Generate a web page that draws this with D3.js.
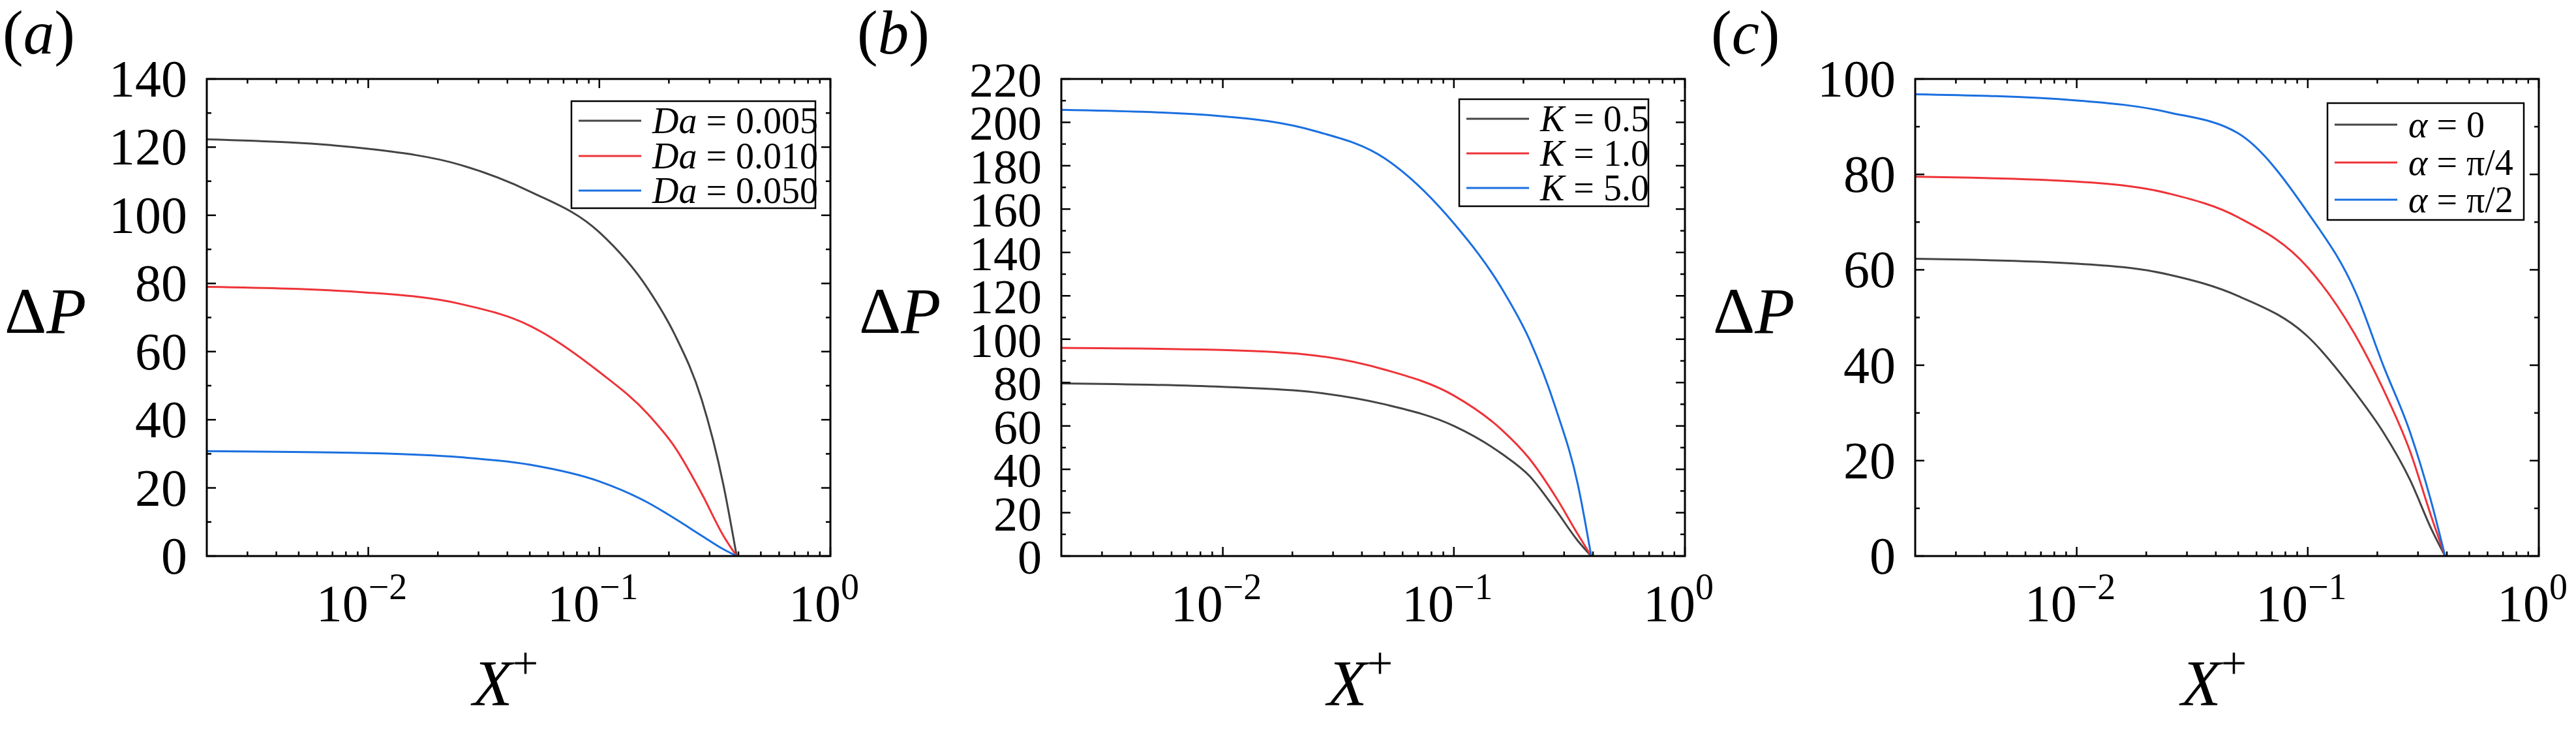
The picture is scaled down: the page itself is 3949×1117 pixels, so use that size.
<!DOCTYPE html>
<html><head><meta charset="utf-8">
<script src="https://cdn.jsdelivr.net/npm/d3@7"></script>
<style>body{margin:0;background:#fff}text{font-family:"Liberation Serif","Times New Roman",serif;fill:#000}</style>
</head><body><svg id="c" width="3949" height="1117"></svg>
<script>
const xs = [0.002, 0.01, 0.025, 0.05, 0.1, 0.162, 0.212, 0.277, 0.344, 0.393];
const colors = ["#444444", "#ee3338", "#1a6fe0"];

// panel a
const daLabels = ["0.005", "0.010", "0.050"];
const daValues = [
  [122.3, 119.5, 114.8, 107, 95, 78.5, 65, 46, 21, 0],
  [79, 77.3, 74, 67.6, 54, 41.7, 32, 18.4, 6, 0],
  [30.8, 30.2, 29, 26.8, 21.9, 15.7, 11, 6, 2, 0]
];
// panel b
const kLabels = ["0.5", "1.0", "5.0"];
const kValues = [
  [79.6, 78, 75.5, 70, 60, 47, 37, 21, 7, 0],
  [96, 95, 92.5, 86, 74, 58, 45, 27, 10, 0],
  [205.8, 202.8, 196, 183.5, 153.4, 123, 100, 67.6, 33, 0]
];
// panel c
const alphaLabels = ["0", "π/4", "π/2"];
const alphaValues = [
  [62.3, 61.3, 59, 54.5, 46, 34, 26, 16, 5.5, 0],
  [79.5, 78.5, 76, 71, 60.5, 46, 35, 22, 8, 0],
  [96.8, 95.5, 93, 88.6, 72, 55, 40, 26, 11, 0]
];
const xTicks = [0.01, 0.1, 1];
const xTickExp = ["−2", "−1", "0"];

const panels = [
  {tag: "a", left: 317, yMax: 140, yStep: 20, values: daValues, labels: daLabels, name: "Da",
   leg: {x: 876, y: 155, w: 374, h: 164, rows: [185, 239, 292]}},
  {tag: "b", left: 1627, yMax: 220, yStep: 20, values: kValues, labels: kLabels, name: "K",
   leg: {x: 2237, y: 152, w: 290, h: 164, rows: [182, 235, 288]}},
  {tag: "c", left: 2936, yMax: 100, yStep: 20, values: alphaValues, labels: alphaLabels, name: "α",
   leg: {x: 3568, y: 158, w: 301, h: 179, rows: [191, 249, 306]}}
];

const svg = d3.select("#c");
const plotTop = 121, plotBottom = 852, width = 956;

panels.forEach((p) => {
  const x = d3.scaleLog().domain([0.002, 1]).range([p.left, p.left + width]);
  const y = d3.scaleLinear().domain([0, p.yMax]).range([plotBottom, plotTop]);
  const g = svg.append("g");

  // curves
  const line = d3.line().x((d, i) => x(xs[i])).y((d) => y(d)).curve(d3.curveMonotoneX);
  p.values.forEach((vals, i) => {
    g.append("path").attr("d", line(vals)).attr("fill", "none")
      .attr("stroke", colors[i]).attr("stroke-width", 3);
  });

  // ticks (inward on all sides)
  const minorX = [];
  for (let e = -3; e < 0; e++) for (let m = 2; m <= 9; m++) {
    const v = m * Math.pow(10, e);
    if (v > 0.002 && v < 1) minorX.push(v);
  }
  const tk = g.append("g").attr("stroke", "#000").attr("stroke-width", 2.5);
  xTicks.forEach((v) => {
    tk.append("line").attr("x1", x(v)).attr("x2", x(v)).attr("y1", plotBottom).attr("y2", plotBottom - 14);
    tk.append("line").attr("x1", x(v)).attr("x2", x(v)).attr("y1", plotTop).attr("y2", plotTop + 14);
  });
  minorX.forEach((v) => {
    tk.append("line").attr("x1", x(v)).attr("x2", x(v)).attr("y1", plotBottom).attr("y2", plotBottom - 7);
    tk.append("line").attr("x1", x(v)).attr("x2", x(v)).attr("y1", plotTop).attr("y2", plotTop + 7);
  });
  d3.range(0, p.yMax + 0.1, p.yStep / 2).forEach((v, i) => {
    const len = i % 2 === 0 ? 14 : 7;
    tk.append("line").attr("x1", p.left).attr("x2", p.left + len).attr("y1", y(v)).attr("y2", y(v));
    tk.append("line").attr("x1", p.left + width).attr("x2", p.left + width - len).attr("y1", y(v)).attr("y2", y(v));
  });
  g.append("rect").attr("x", p.left).attr("y", plotTop).attr("width", width).attr("height", plotBottom - plotTop)
    .attr("fill", "none").attr("stroke", "#000").attr("stroke-width", 3);

  // tick labels
  d3.range(0, p.yMax + 0.1, p.yStep).forEach((v) => {
    g.append("text").attr("x", p.left - 30).attr("y", y(v) + 27).attr("text-anchor", "end")
      .attr("font-size", p.tag === "b" ? 74 : 80).text(v);
  });
  xTicks.forEach((v, i) => {
    const t = g.append("text").attr("x", x(v) - 10).attr("y", 952).attr("text-anchor", "middle").attr("font-size", 80);
    t.append("tspan").text("10");
    t.append("tspan").attr("dy", -34).attr("font-size", 56).text(xTickExp[i]);
  });

  // axis labels
  const yl = g.append("text").attr("x", p.left - 310).attr("y", 510).attr("font-size", 100);
  yl.append("tspan").text("Δ");
  yl.append("tspan").attr("font-style", "italic").text("P");
  const xl = g.append("text").attr("x", p.left + width / 2 - 20).attr("y", 1080).attr("text-anchor", "middle").attr("font-size", 100);
  xl.append("tspan").attr("font-style", "italic").text("X");
  xl.append("tspan").attr("dy", -40).attr("font-size", 70).text("+");
  const pl = g.append("text").attr("x", p.left - 313).attr("y", 82).attr("font-size", 95);
  pl.append("tspan").text("(");
  pl.append("tspan").attr("font-style", "italic").text(p.tag);
  pl.append("tspan").text(")");

  // legend
  const L = p.leg;
  g.append("rect").attr("x", L.x).attr("y", L.y).attr("width", L.w).attr("height", L.h)
    .attr("fill", "#fff").attr("stroke", "#000").attr("stroke-width", 2.5);
  p.labels.forEach((lab, i) => {
    const ry = L.rows[i];
    g.append("line").attr("x1", L.x + 11).attr("x2", L.x + 107).attr("y1", ry).attr("y2", ry)
      .attr("stroke", colors[i]).attr("stroke-width", 3);
    const t = g.append("text").attr("x", L.x + 124).attr("y", ry + 19).attr("font-size", 56);
    t.append("tspan").attr("font-style", "italic").text(p.name);
    t.append("tspan").text(" = " + lab);
  });
});
</script></body></html>
